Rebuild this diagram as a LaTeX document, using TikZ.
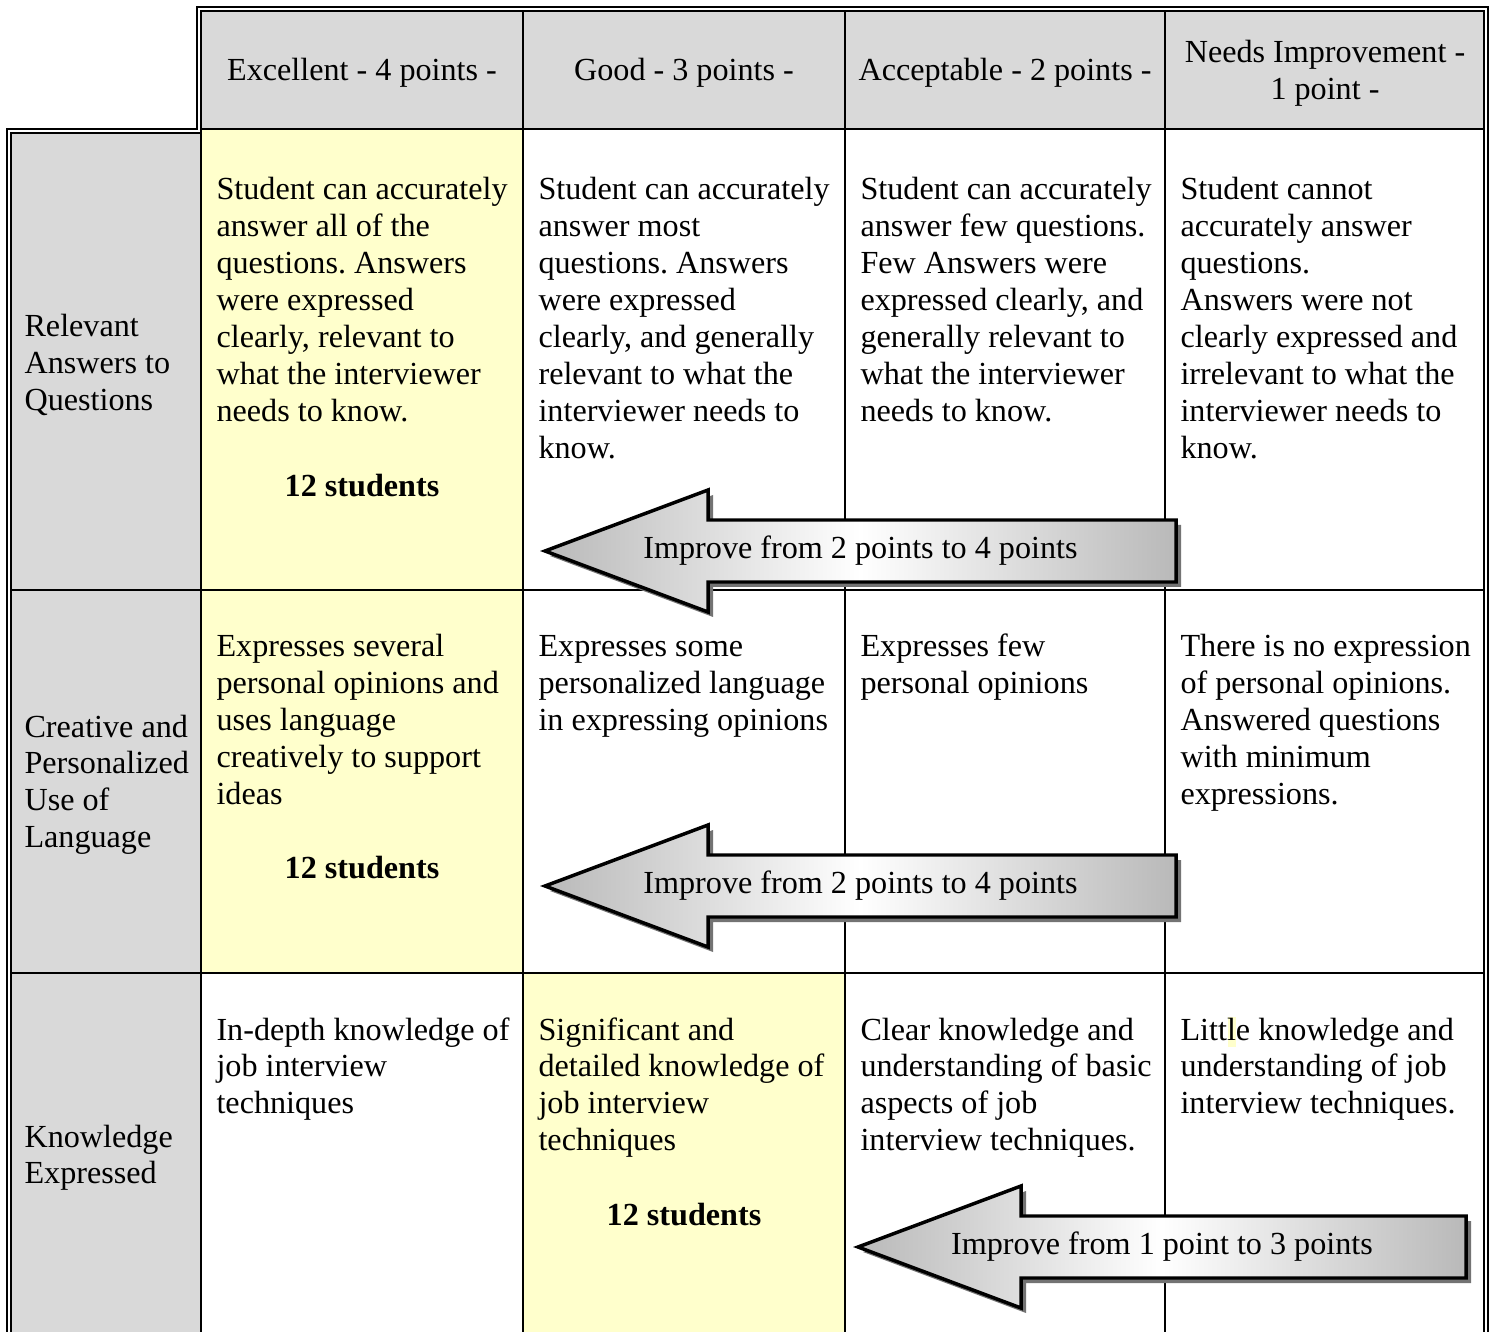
\documentclass[tikz,border=0pt]{standalone}
\usepackage{fontspec}
\setmainfont{Liberation Serif}
\usepackage{tikz}

\definecolor{cellgray}{HTML}{D9D9D9}
\definecolor{cellyellow}{HTML}{FFFFCC}

\begin{document}
\frenchspacing
\begin{tikzpicture}[x=0.3731pt,y=-0.3731pt,
  every node/.style={inner sep=0pt,font=\fontsize{12}{13.8}\selectfont},
  cell/.style={anchor=base west,align=flush left,text width=112pt},
  label/.style={anchor=base west,align=flush left,text width=66pt},
  head/.style={anchor=base,align=flush center,text width=118pt},
  grid/.style={line width=0.75pt},
  frame/.style={line width=0.8pt}]
\useasboundingbox (0,0) rectangle (1489,1332);
% cell backgrounds
\fill[cellgray] (201,11) rectangle (1484,129);
\fill[cellgray] (11,133) rectangle (201,1332);
\fill[cellyellow] (201,129) rectangle (523,973);
\fill[cellyellow] (523,973) rectangle (845,1332);
\fill[cellyellow] (1228,1017) rectangle (1236,1047);
% grid
\foreach \x in {523,845,1165}
  \draw[grid] (\x,11) -- (\x,1332);
\foreach \y in {590,973}
  \draw[grid] (11,\y) -- (1484,\y);
\draw[grid] (201,129) -- (1484,129);
% double frame
\draw[frame] (7,1332) -- (7,129) -- (197,129) -- (197,7) -- (1488,7) -- (1488,1332);
\draw[frame] (11,1332) -- (11,133) -- (201,133) -- (201,11) -- (1484,11) -- (1484,1332);
\draw[grid] (201,133) -- (201,1332);

% header
\node[head] (h1) at (362,81) {Excellent - 4 points -};
\node[head] (h2) at (684,81) {Good - 3 points -};
\node[head] (h3) at (1005,81) {Acceptable - 2 points -};
\node[head] (h4) at (1325,63) {Needs Improvement -\\1 point -};

% row labels
\node[label] (l1) at (24,337) {Relevant\\Answers to\\Questions};
\node[label] (l2) at (24,737) {Creative and\\Personalized\\Use of\\Language};
\node[label] (l3) at (24,1147) {Knowledge\\Expressed};

% row 1
\node[cell] (c11) at (216,200) {Student can accurately\\answer all of the\\questions. Answers\\were expressed\\clearly, relevant to\\what the interviewer\\needs to know.};
\node[cell] (c12) at (538,200) {Student can accurately\\answer most\\questions. Answers\\were expressed\\clearly, and generally\\relevant to what the\\interviewer needs to\\know.};
\node[cell] (c13) at (860,200) {Student can accurately\\answer few questions.\\Few Answers were\\expressed clearly, and\\generally relevant to\\what the interviewer\\needs to know.};
\node[cell] (c14) at (1180,200) {Student cannot\\accurately answer\\questions.\\Answers were not\\clearly expressed and\\irrelevant to what the\\interviewer needs to\\know.};
\node[head] (s1) at (362,497) {\textbf{12 students}};

% row 2
\node[cell] (c21) at (216,657) {Expresses several\\personal opinions and\\uses language\\creatively to support\\ideas};
\node[cell] (c22) at (538,657) {Expresses some\\personalized language\\in expressing opinions};
\node[cell] (c23) at (860,657) {Expresses few\\personal opinions};
\node[cell] (c24) at (1180,657) {There is no expression\\of personal opinions.\\Answered questions\\with minimum\\expressions.};
\node[head] (s2) at (362,878) {\textbf{12 students}};

% row 3
\node[cell] (c31) at (216,1040) {In-depth knowledge of\\job interview\\techniques};
\node[cell] (c32) at (538,1040) {Significant and\\detailed knowledge of\\job interview\\techniques};
\node[cell] (c33) at (860,1040) {Clear knowledge and\\understanding of basic\\aspects of job\\interview techniques.};
\node[cell] (c34) at (1180,1040) {Little knowledge and\\understanding of job\\interview techniques.};
\node[head] (s3) at (684,1225) {\textbf{12 students}};

% improvement arrows
\foreach \t/\y/\e/\txt [count=\i] in {545/551/1176/Improve from 2 points to 4 points,
    545/886/1176/Improve from 2 points to 4 points,
    858/1247/1466/Improve from 1 point to 3 points}{
  \fill[black!55,shift={(5,5)}] (\t,\y) -- (\t+163,\y-61) -- (\t+163,\y-31) -- (\e,\y-31)
    -- (\e,\y+31) -- (\t+163,\y+31) -- (\t+163,\y+61) -- cycle;
  \draw[line width=1.3pt,line join=miter,left color=gray!55,right color=gray!55,middle color=white]
    (\t,\y) -- (\t+163,\y-61) -- (\t+163,\y-31) -- (\e,\y-31)
    -- (\e,\y+31) -- (\t+163,\y+31) -- (\t+163,\y+61) -- cycle;
  \node (imp\i) at ({(\t+\e)/2},\y) {\txt};
}
\end{tikzpicture}
\end{document}
